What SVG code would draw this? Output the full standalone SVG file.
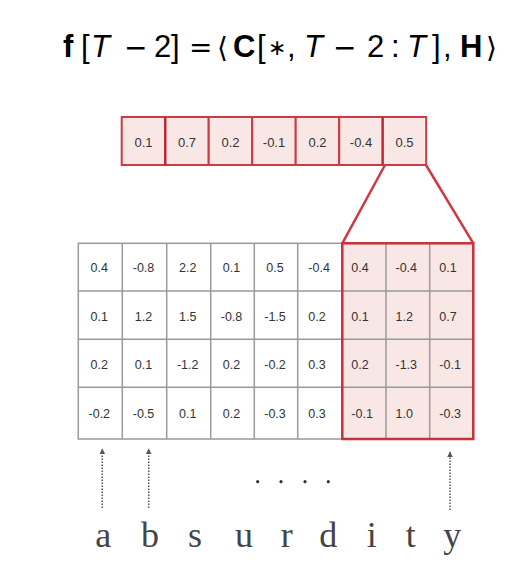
<svg xmlns="http://www.w3.org/2000/svg" width="528" height="579" viewBox="0 0 528 579">
<style>
.num{font-family:"Liberation Sans",Arial,sans-serif;font-size:12.5px;fill:#333}
.vnum{font-family:"Liberation Sans",Arial,sans-serif;font-size:13px;fill:#333;text-anchor:middle}
.c{text-anchor:middle}
.gl{stroke:#9a9a9a;stroke-width:1.5;fill:none}
.vc{fill:#f9e7e6;stroke:#cc3a42;stroke-width:2}
.fm{font-family:"Liberation Sans",Arial,sans-serif;font-size:31px;fill:#000}
.op{font-family:"DejaVu Sans","Liberation Sans",sans-serif;font-size:28px}
.st{font-family:"DejaVu Sans","Liberation Sans",sans-serif;font-size:22px}
.b{font-weight:bold}
.i{font-style:italic}
.tok{font-family:"Liberation Serif","Times New Roman",serif;font-size:36px;fill:#444;text-anchor:middle}
.arr{stroke:#555;stroke-width:1.5;stroke-dasharray:1.5 1.5;fill:none}
</style>
<defs>
<marker id="ah" viewBox="0 0 10 10" refX="9" refY="5" markerWidth="6" markerHeight="6" orient="auto" markerUnits="userSpaceOnUse">
<path d="M0,0 L10,5 L0,10 z" fill="#555"/>
</marker>
</defs>
<rect width="528" height="579" fill="#fff"/>

<g id="formula">
<text class="fm" y="57"><tspan class="b" x="63">f</tspan><tspan x="81">[</tspan><tspan class="i" x="91">T</tspan><tspan class="op" x="124">−</tspan><tspan x="154">2</tspan><tspan x="171">]</tspan><tspan class="op" x="189">=</tspan><tspan class="op" x="217">⟨</tspan><tspan class="b" x="233">C</tspan><tspan x="257">[</tspan><tspan class="st" x="268" dy="-2">∗</tspan><tspan x="287" dy="2">,</tspan><tspan class="i" x="304">T</tspan><tspan class="op" x="333">−</tspan><tspan x="367">2</tspan><tspan x="391">:</tspan><tspan class="i" x="407">T</tspan><tspan x="432">]</tspan><tspan x="443">,</tspan><tspan class="b" x="460">H</tspan><tspan class="op" x="486">⟩</tspan></text>
</g>

<g id="vector">
<rect class="vc" x="165.2" y="117" width="43.5" height="48"/>
<rect class="vc" x="208.7" y="117" width="43.5" height="48"/>
<rect class="vc" x="252.2" y="117" width="43.5" height="48"/>
<rect class="vc" x="295.7" y="117" width="43.5" height="48"/>
<rect class="vc" x="339.2" y="117" width="43.5" height="48"/>
<rect class="vc" x="382.7" y="117" width="43.5" height="48" stroke="#e0666d"/>
<rect class="vc" x="121.7" y="117" width="43.5" height="48" stroke="#b7232c"/>
<line x1="165.2" y1="117" x2="165.2" y2="165" stroke="#b7232c" stroke-width="2"/>
<line x1="382.7" y1="117" x2="382.7" y2="165" stroke="#c42a33" stroke-width="2"/>
<text class="vnum" y="146.5"><tspan x="143.5">0.1</tspan><tspan x="187">0.7</tspan><tspan x="230.5">0.2</tspan><tspan x="274">-0.1</tspan><tspan x="317.5">0.2</tspan><tspan x="361">-0.4</tspan><tspan x="404.5">0.5</tspan></text>
</g>

<g id="connectors">
<line x1="385" y1="165" x2="342.3" y2="243.3" stroke="#cc3a42" stroke-width="2.5"/>
<line x1="426" y1="165" x2="473.3" y2="243.3" stroke="#cc3a42" stroke-width="2.5"/>
<line class="arr" x1="102.3" y1="508" x2="102.3" y2="449" marker-end="url(#ah)"/>
<line class="arr" x1="148.7" y1="508" x2="148.7" y2="449" marker-end="url(#ah)"/>
<line class="arr" x1="450" y1="510" x2="450" y2="452" marker-end="url(#ah)"/>
</g>

<g id="matrix">
<rect x="342.3" y="243.3" width="131" height="195.7" fill="#f9e7e6"/>
<rect class="gl" x="78.3" y="243.3" width="395" height="195.7"/>
<path class="gl" d="M122.3,243.3V439 M166.7,243.3V439 M210.7,243.3V439 M254.3,243.3V439 M297.7,243.3V439 M342.3,243.3V439 M386,243.3V439 M429.7,243.3V439 M78.3,291H473.3 M78.3,339.3H473.3 M78.3,387.3H473.3"/>
<text class="num c" y="272"><tspan x="99.3">0.4</tspan><tspan x="143.5">-0.8</tspan><tspan x="187.7">2.2</tspan><tspan x="231.5">0.1</tspan><tspan x="275">0.5</tspan></text>
<text class="num c" y="320.5"><tspan x="99.3">0.1</tspan><tspan x="143.5">1.2</tspan><tspan x="187.7">1.5</tspan><tspan x="231.5">-0.8</tspan><tspan x="275">-1.5</tspan></text>
<text class="num c" y="368.5"><tspan x="99.3">0.2</tspan><tspan x="143.5">0.1</tspan><tspan x="187.7">-1.2</tspan><tspan x="231.5">0.2</tspan><tspan x="275">-0.2</tspan></text>
<text class="num c" y="418"><tspan x="99.3">-0.2</tspan><tspan x="143.5">-0.5</tspan><tspan x="187.7">0.1</tspan><tspan x="231.5">0.2</tspan><tspan x="275">-0.3</tspan></text>
<text class="num" y="272"><tspan x="308.3">-0.4</tspan><tspan x="351.3">0.4</tspan><tspan x="395.5">-0.4</tspan><tspan x="439.3">0.1</tspan></text>
<text class="num" y="320.5"><tspan x="308.3">0.2</tspan><tspan x="351.3">0.1</tspan><tspan x="395.5">1.2</tspan><tspan x="439.3">0.7</tspan></text>
<text class="num" y="368.5"><tspan x="308.3">0.3</tspan><tspan x="351.3">0.2</tspan><tspan x="395.5">-1.3</tspan><tspan x="439.3">-0.1</tspan></text>
<text class="num" y="418"><tspan x="308.3">0.3</tspan><tspan x="351.3">-0.1</tspan><tspan x="395.5">1.0</tspan><tspan x="439.3">-0.3</tspan></text>
</g>

<g id="highlight">
<rect x="342.3" y="243.3" width="131" height="195.7" fill="none" stroke="#c8323a" stroke-width="2.5"/>
</g>

<g id="ellipsis" fill="#333">
<circle cx="257.7" cy="481.7" r="1.6"/>
<circle cx="281" cy="481.7" r="1.6"/>
<circle cx="305" cy="481.7" r="1.6"/>
<circle cx="328.3" cy="481.7" r="1.6"/>
</g>

<g id="tokens">
<text class="tok" y="547"><tspan x="103.3">a</tspan><tspan x="150">b</tspan><tspan x="195">s</tspan><tspan x="244">u</tspan><tspan x="286.7">r</tspan><tspan x="328.3">d</tspan><tspan x="371.7">i</tspan><tspan x="410.7">t</tspan><tspan x="452.3">y</tspan></text>
</g>
</svg>
